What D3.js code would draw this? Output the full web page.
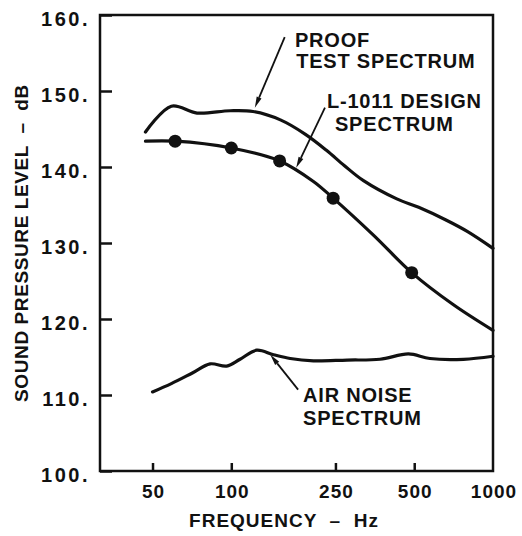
<!DOCTYPE html>
<html><head><meta charset="utf-8">
<script src="https://cdn.jsdelivr.net/npm/d3@7"></script>
<style>
html,body{margin:0;padding:0;background:#fff;}
text{font-family:"Liberation Sans",Arial,Helvetica,sans-serif;font-weight:bold;fill:#111;}
</style></head>
<body>
<svg id="chart" width="522" height="536"></svg>
<script>
// ---- data ----
const proofFreq = [47, 59, 74, 99, 121, 154, 192, 231, 270, 320, 429, 520, 664, 800, 1000];
const proofDb   = [144.6, 148.0, 147.1, 147.4, 147.3, 146.2, 144.3, 142.2, 140.2, 138.2, 135.8, 134.7, 133.0, 131.5, 129.3];

const designFreq = [47, 61, 100, 153, 206, 245, 350, 489, 704, 1000];
const designDb   = [143.4, 143.4, 142.5, 140.8, 138.1, 135.9, 131.0, 126.1, 121.9, 118.5];

const dotFreq = [61, 100, 153, 245, 489];
const dotDb   = [143.4, 142.5, 140.8, 135.9, 126.1];

const airFreq = [50, 59, 71, 83, 96, 108, 125, 145, 168, 206, 277, 370, 475, 574, 771, 1000];
const airDb   = [110.4, 111.5, 112.9, 114.1, 113.8, 114.7, 115.9, 115.3, 114.8, 114.5, 114.6, 114.7, 115.4, 114.8, 114.7, 115.1];

const xTickValues = [50, 100, 250, 500, 1000];
const xTickLabels = ["50", "100", "250", "500", "1000"];
const yTickValues = [100, 110, 120, 130, 140, 150, 160];
const yTickLabels = ["100.", "110.", "120.", "130.", "140.", "150.", "160."];

const xTitle = "FREQUENCY  –  Hz";
const yTitle = "SOUND PRESSURE LEVEL  –  dB";

// annotations: text lines anchored in data units (freq, dB)
const labelText = ["PROOF", "TEST SPECTRUM", "L-1011 DESIGN", "SPECTRUM", "AIR NOISE", "SPECTRUM"];
const labelFreq = [175, 177, 232, 249, 188, 188];
const labelDb   = [155.8, 153.0, 147.8, 144.7, 109.1, 106.1];
// arrows: from (freq, dB) to tip (freq, dB)
const arrowFromFreq = [160, 228, 180];
const arrowFromDb   = [157.1, 147.8, 110.7];
const arrowToFreq   = [123, 177, 141];
const arrowToDb     = [147.8, 139.9, 115.3];

// ---- layout ----
const svg = d3.select("#chart");
const mLeft = 100, mRight = 493, mTop = 15, mBottom = 471;
const x = d3.scaleLog().domain([31.5, 1000]).range([mLeft, mRight]);
const y = d3.scaleLinear().domain([100, 160]).range([mBottom, mTop]);
const ink = "#111";

// frame
svg.append("rect").attr("x", mLeft).attr("y", mTop)
  .attr("width", mRight - mLeft).attr("height", mBottom - mTop)
  .attr("fill", "none").attr("stroke", ink).attr("stroke-width", 2.5);

// y ticks (inward)
const yAxis = d3.axisRight(y).tickValues(yTickValues).tickSize(12)
  .tickFormat(() => "");
const gy = svg.append("g").attr("transform", `translate(${mLeft},0)`).call(yAxis);
gy.select(".domain").remove();
gy.selectAll(".tick line").attr("stroke", ink).attr("stroke-width", 2.5);
svg.append("g").selectAll("text").data(yTickValues).join("text")
  .attr("x", mLeft - 10).attr("y", d => y(d) + 10.5)
  .attr("text-anchor", "end").attr("font-size", 20).attr("letter-spacing", 2.5)
  .text((d, i) => yTickLabels[i]);

// x ticks (inward)
const xAxis = d3.axisTop(x).tickValues(xTickValues.filter(v => v < 1000)).tickSize(8)
  .tickFormat(() => "");
const gx = svg.append("g").attr("transform", `translate(0,${mBottom})`).call(xAxis);
gx.select(".domain").remove();
gx.selectAll(".tick line").attr("stroke", ink).attr("stroke-width", 2.5);
svg.append("g").selectAll("text").data(xTickValues).join("text")
  .attr("x", d => x(d) + 1).attr("y", mBottom + 27)
  .attr("text-anchor", "middle").attr("font-size", 19).attr("letter-spacing", 1)
  .text((d, i) => xTickLabels[i]);

// titles
svg.append("text").attr("x", 284).attr("y", 527)
  .attr("text-anchor", "middle").attr("font-size", 19).attr("letter-spacing", 1)
  .style("white-space", "pre").text(xTitle);
svg.append("text").attr("transform", `translate(28,${(mTop + mBottom) / 2}) rotate(-90)`)
  .attr("text-anchor", "middle").attr("font-size", 19).attr("letter-spacing", 0.6)
  .style("white-space", "pre").text(yTitle);

// curves
const line = d3.line().curve(d3.curveCatmullRom.alpha(0.5))
  .x(d => x(d[0])).y(d => y(d[1]));
function drawCurve(fs, vs) {
  svg.append("path").datum(fs.map((f, i) => [f, vs[i]]))
    .attr("d", line).attr("fill", "none").attr("stroke", ink)
    .attr("stroke-width", 3.2).attr("stroke-linejoin", "round").attr("stroke-linecap", "round");
}
drawCurve(proofFreq, proofDb);
drawCurve(designFreq, designDb);
drawCurve(airFreq, airDb);

// dots
svg.append("g").selectAll("circle").data(dotFreq).join("circle")
  .attr("cx", d => x(d)).attr("cy", (d, i) => y(dotDb[i])).attr("r", 6.5).attr("fill", ink);

// arrows
arrowFromFreq.forEach((f, i) => {
  const x1 = x(f), y1 = y(arrowFromDb[i]);
  const x2 = x(arrowToFreq[i]), y2 = y(arrowToDb[i]);
  const ang = Math.atan2(y2 - y1, x2 - x1);
  const L = 11, W = 2.6;
  const bx = x2 - L * Math.cos(ang), by = y2 - L * Math.sin(ang);
  svg.append("line").attr("x1", x1).attr("y1", y1).attr("x2", bx).attr("y2", by)
    .attr("stroke", ink).attr("stroke-width", 1.8);
  const px = -Math.sin(ang) * W, py = Math.cos(ang) * W;
  svg.append("path")
    .attr("d", `M${x2},${y2}L${bx + px},${by + py}L${bx - px},${by - py}Z`)
    .attr("fill", ink);
});

// labels
svg.append("g").selectAll("text").data(labelText).join("text")
  .attr("x", (d, i) => x(labelFreq[i])).attr("y", (d, i) => y(labelDb[i]))
  .attr("font-size", 20).attr("letter-spacing", 0.8)
  .text(d => d);
</script>
</body></html>
